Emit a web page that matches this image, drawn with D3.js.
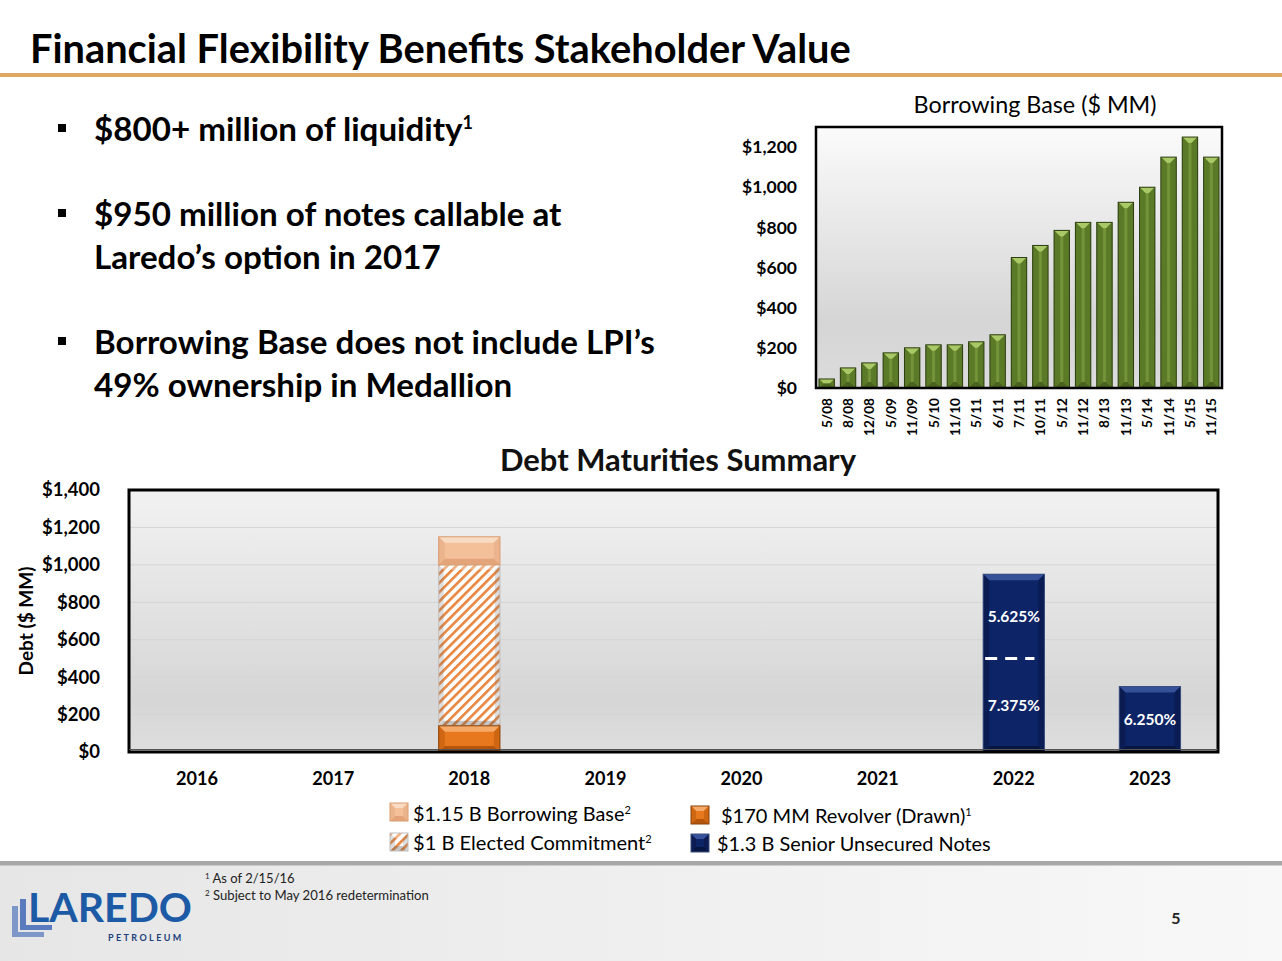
<!DOCTYPE html>
<html><head><meta charset="utf-8">
<script src="https://cdn.jsdelivr.net/npm/d3@7"></script>
<style>
html,body{margin:0;padding:0;background:#fff;}
svg{display:block;font-family:Lato,"Open Sans",sans-serif;}
</style></head><body>
<svg id="c" width="1282" height="961"></svg>
<script>
// ---------- DATA ----------
const bbDates = ["5/08","8/08","12/08","5/09","11/09","5/10","11/10","5/11","6/11","7/11","10/11","5/12","11/12","8/13","11/13","5/14","11/14","5/15","11/15"];
const bbValues = [45,100,125,175,200,215,215,230,265,650,710,785,825,825,925,1000,1150,1250,1150];
const bbTicks = [0,200,400,600,800,1000,1200];

const years = ["2016","2017","2018","2019","2020","2021","2022","2023"];
const revolverDrawn     = [0,0,140,0,0,0,0,0];
const electedCommitment = [0,0,1000,0,0,0,0,0];
const borrowingBase     = [0,0,1150,0,0,0,0,0];
const notesLower        = [0,0,0,0,0,0,500,350];
const notesUpper        = [0,0,0,0,0,0,450,0];
const notesLowerLabel   = ["","","","","","","7.375%","6.250%"];
const notesUpperLabel   = ["","","","","","","5.625%",""];
const debtTicks = [0,200,400,600,800,1000,1200,1400];

const bullets = [
  ["$800+ million of liquidity","1"],
  ["$950 million of notes callable at",""],
  ["Laredo\u2019s option in 2017",""],
  ["Borrowing Base does not include LPI\u2019s",""],
  ["49% ownership in Medallion",""]
];
const legendItems = [
  {key:"bb",   label:"$1.15 B Borrowing Base", sup:"2"},
  {key:"ec",   label:"$1 B Elected Commitment", sup:"2"},
  {key:"rev",  label:"$170 MM Revolver (Drawn)", sup:"1"},
  {key:"notes",label:"$1.3 B Senior Unsecured Notes", sup:""}
];
const footnotes = [["1","As of 2/15/16"],["2","Subject to May 2016 redetermination"]];

// ---------- HELPERS ----------
const svg = d3.select("#c");
const defs = svg.append("defs");
const fmt = v => "$" + d3.format(",")(v);

function fit(t, w){
  const cur = t.node().getComputedTextLength();
  const fs = parseFloat(t.attr("font-size"));
  t.attr("font-size", fs * w / cur);
  return fs * w / cur;
}
function fitAll(sel, w){
  let mx = 0;
  sel.each(function(){ mx = Math.max(mx, this.getComputedTextLength()); });
  const fs = parseFloat(sel.attr("font-size"));
  sel.attr("font-size", fs * w / mx);
}
const palettes = {
  green:{body:"url(#gGreen)", top:"#a9c866", bottom:"#4a6320", side:"#5b7a28", stroke:"#2e3d12"},
  rev:{body:"#e8781e", top:"#f6aa6a", bottom:"#b5560c", side:"#cf6612", stroke:"#8a4208"},
  bb:{body:"#f3c09a", top:"#f9dbc4", bottom:"#e3a479", side:"#ebb48c", stroke:"#d99c70"},
  notes:{body:"#0d2466", top:"#34519a", bottom:"#071640", side:"#0a1c52", stroke:"#3a4f80"},
  ec:{body:"url(#hatch)", top:"rgba(255,255,255,0.35)", bottom:"rgba(90,90,90,0.35)", side:"rgba(120,120,120,0.25)", stroke:"#c0c0c0"}
};
function bevel(g, x, y, w, h, p, b){
  b = Math.min(b, w/2, h/2);
  g.append("rect").attr("x",x).attr("y",y).attr("width",w).attr("height",h).attr("fill",p.body);
  const poly = (pts, f) => g.append("polygon").attr("points", pts.map(d=>d.join(",")).join(" ")).attr("fill", f);
  poly([[x,y],[x+w,y],[x+w-b,y+b],[x+b,y+b]], p.top);
  poly([[x,y+h],[x+w,y+h],[x+w-b,y+h-b],[x+b,y+h-b]], p.bottom);
  poly([[x,y],[x+b,y+b],[x+b,y+h-b],[x,y+h]], p.side);
  poly([[x+w,y],[x+w-b,y+b],[x+w-b,y+h-b],[x+w,y+h]], p.side);
  g.append("rect").attr("x",x).attr("y",y).attr("width",w).attr("height",h)
    .attr("fill","none").attr("stroke",p.stroke).attr("stroke-width",1);
}

// gradients & patterns
const gg = defs.append("linearGradient").attr("id","gGreen").attr("x1","0").attr("x2","1").attr("y1","0").attr("y2","0");
gg.append("stop").attr("offset","0").attr("stop-color","#4d6821");
gg.append("stop").attr("offset","0.5").attr("stop-color","#76963a");
gg.append("stop").attr("offset","1").attr("stop-color","#4d6821");
function vgrad(id, stops){
  const g = defs.append("linearGradient").attr("id",id).attr("x1","0").attr("x2","0").attr("y1","0").attr("y2","1");
  stops.forEach(s=>g.append("stop").attr("offset",s[0]).attr("stop-color",s[1]));
}
vgrad("plotBg",[[0,"#fbfbfb"],[0.75,"#d5d5d5"],[1,"#dcdcdc"]]);
vgrad("plotBg2",[[0,"#f2f2f2"],[0.8,"#d6d6d6"],[1,"#dedede"]]);
const fg = defs.append("linearGradient").attr("id","footBg").attr("x1","0").attr("x2","1").attr("y1","0").attr("y2","0");
fg.append("stop").attr("offset","0").attr("stop-color","#e6e6e6");
fg.append("stop").attr("offset","1").attr("stop-color","#f8f8f8");
const hp = defs.append("pattern").attr("id","hatch").attr("patternUnits","userSpaceOnUse")
  .attr("width",6.5).attr("height",6.5).attr("patternTransform","rotate(45)");
hp.append("rect").attr("width",6.5).attr("height",6.5).attr("fill","#ffffff");
hp.append("rect").attr("x",0).attr("width",2.6).attr("height",6.5).attr("fill","#e8853e");

// ---------- PAGE ----------
svg.append("rect").attr("width",1282).attr("height",961).attr("fill","#fff");
svg.append("rect").attr("x",0).attr("y",865).attr("width",1282).attr("height",96).attr("fill","url(#footBg)");
svg.append("rect").attr("x",0).attr("y",861).attr("width",1282).attr("height",4.5).attr("fill","#a8a8a8");

const title = svg.append("text").attr("x",30).attr("y",63).attr("font-size",35).attr("font-weight","bold")
  .attr("fill","#000").text("Financial Flexibility Benefits Stakeholder Value");
fit(title, 821);
svg.append("rect").attr("x",0).attr("y",73).attr("width",1282).attr("height",4).attr("fill","#dea762");

// bullets
const bulletY = [141,226,269,354,397];
const bulletHas = [true,true,false,true,false];
const bl = svg.append("g");
const btexts = bullets.map((b,i)=>{
  const t = bl.append("text").attr("x",94).attr("y",bulletY[i]).attr("font-size",30).attr("font-weight","bold").attr("fill","#000");
  t.append("tspan").text(b[0]);
  if (b[1]) t.append("tspan").attr("dy",-12).attr("font-size",18).text(b[1]);
  return t;
});
const bfs = fit(btexts[3], 561);
btexts.forEach(t=>t.attr("font-size",bfs));
btexts.forEach((t,i)=>{ if(bulletHas[i]) bl.append("rect").attr("x",58).attr("y",bulletY[i]-17).attr("width",8).attr("height",8).attr("fill","#000"); });

// ---------- TOP CHART: Borrowing Base ----------
const tL=816, tR=1222, tT=127, tB=388;
const x1 = d3.scaleBand().domain(bbDates).range([tL,tR]).paddingInner(0.28).paddingOuter(0.14);
const y1 = d3.scaleLinear().domain([0,1300]).range([tB,tT]);
const topG = svg.append("g");
topG.append("rect").attr("x",tL).attr("y",tT).attr("width",tR-tL).attr("height",tB-tT).attr("fill","url(#plotBg)");
const tt = topG.append("text").attr("x",1035).attr("y",113).attr("text-anchor","middle").attr("font-size",21)
  .attr("font-weight","normal").attr("fill","#000").text("Borrowing Base ($ MM)");
fit(tt, 243);
const bars1 = topG.append("g");
bbDates.forEach((d,i)=>{
  bevel(bars1, x1(d), y1(bbValues[i]), x1.bandwidth(), y1(0)-y1(bbValues[i]), palettes.green, 6);
});
const ay1 = topG.append("g").attr("transform",`translate(${tL-16},0)`)
  .call(d3.axisLeft(y1).tickValues(bbTicks).tickSize(0).tickFormat(fmt));
ay1.select(".domain").remove();
const ay1t = ay1.selectAll("text").attr("font-size",15.5).attr("font-weight","bold").attr("fill","#000")
  .attr("font-family","Lato,'Open Sans',sans-serif").attr("dx",0);
fitAll(ay1t, 55);
const ax1 = topG.append("g");
bbDates.forEach(d=>{
  ax1.append("text").attr("transform",`translate(${x1(d)+x1.bandwidth()/2+5},398) rotate(-90)`)
    .attr("text-anchor","end").attr("font-size",13).attr("font-weight","bold").attr("fill","#000").attr("class","xl").text(d);
});
fitAll(ax1.selectAll("text"), 38);
topG.append("rect").attr("x",tL).attr("y",tT).attr("width",tR-tL).attr("height",tB-tT)
  .attr("fill","none").attr("stroke","#000").attr("stroke-width",2.5);

// ---------- BOTTOM CHART: Debt Maturities ----------
const bL=129, bR=1218, bT=490, bB=752;
const x2 = d3.scaleBand().domain(years).range([bL,bR]).paddingInner(0.55).paddingOuter(0.275);
const y2 = d3.scaleLinear().domain([0,1400]).range([bB,bT]);
const bot = svg.append("g");
bot.append("rect").attr("x",bL).attr("y",bT).attr("width",bR-bL).attr("height",bB-bT).attr("fill","url(#plotBg2)");
bot.append("g").selectAll("line").data(debtTicks.filter(v=>v>0 && v<1400)).join("line")
  .attr("x1",bL).attr("x2",bR).attr("y1",d=>y2(d)).attr("y2",d=>y2(d)).attr("stroke","#d4d4d4").attr("stroke-width",1);
const bt = bot.append("text").attr("x",678).attr("y",471).attr("text-anchor","middle").attr("font-size",27)
  .attr("font-weight","bold").attr("fill","#111").text("Debt Maturities Summary");
fit(bt, 356);

const bars2 = bot.append("g");
years.forEach((yr,i)=>{
  const bx = x2(yr), bw = x2.bandwidth();
  if (revolverDrawn[i] > 0) {
    bevel(bars2, bx, y2(electedCommitment[i]), bw, y2(revolverDrawn[i]) - y2(electedCommitment[i]), palettes.ec, 5);
    bevel(bars2, bx, y2(borrowingBase[i]), bw, y2(electedCommitment[i]) - y2(borrowingBase[i]), palettes.bb, 6);
    bevel(bars2, bx, y2(revolverDrawn[i]), bw, y2(0) - y2(revolverDrawn[i]), palettes.rev, 6);
  }
  const tot = notesLower[i] + notesUpper[i];
  if (tot > 0) {
    bevel(bars2, bx, y2(tot), bw, y2(0) - y2(tot), palettes.notes, 6);
    if (notesUpper[i] > 0) {
      bars2.append("line").attr("x1",bx+2).attr("x2",bx+bw-10).attr("y1",y2(notesLower[i])).attr("y2",y2(notesLower[i]))
        .attr("stroke","#fff").attr("stroke-width",3).attr("stroke-dasharray","12,8");
      bars2.append("text").attr("x",bx+bw/2).attr("y",y2(notesLower[i]+notesUpper[i]/2)+6).attr("text-anchor","middle")
        .attr("font-size",15.5).attr("font-weight","bold").attr("fill","#fff").text(notesUpperLabel[i]);
    }
    bars2.append("text").attr("x",bx+bw/2).attr("y",y2(notesLower[i]/2)+6).attr("text-anchor","middle")
      .attr("font-size",15.5).attr("font-weight","bold").attr("fill","#fff").text(notesLowerLabel[i]);
  }
});

const ay2 = bot.append("g").attr("transform",`translate(${bL-26},0)`)
  .call(d3.axisLeft(y2).tickValues(debtTicks).tickSize(0).tickFormat(fmt));
ay2.select(".domain").remove();
const ay2t = ay2.selectAll("text").attr("font-size",16).attr("font-weight","bold").attr("fill","#000")
  .attr("font-family","Lato,'Open Sans',sans-serif").attr("dx",0);
fitAll(ay2t, 58);
const ax2 = bot.append("g").attr("transform",`translate(0,${bB})`)
  .call(d3.axisBottom(x2).tickSize(0));
ax2.select(".domain").remove();
const ax2t = ax2.selectAll("text").attr("font-size",16.5).attr("font-weight","bold").attr("fill","#000")
  .attr("font-family","Lato,'Open Sans',sans-serif").attr("dy",0).attr("y",33);
fitAll(ax2t, 42);
bot.append("text").attr("transform","translate(33,621) rotate(-90)").attr("text-anchor","middle")
  .attr("font-size",19).attr("font-weight","bold").attr("fill","#000").text("Debt ($ MM)");
bot.append("rect").attr("x",bL).attr("y",bT).attr("width",bR-bL).attr("height",bB-bT)
  .attr("fill","none").attr("stroke","#000").attr("stroke-width",3);
bot.append("line").attr("x1",bL).attr("x2",bR).attr("y1",bB-2.5).attr("y2",bB-2.5).attr("stroke","#555").attr("stroke-width",1);

// legend
const legPos = {bb:[390,803,413,821], ec:[390,833,413,850], rev:[691,806,721,823], notes:[691,834,717,851]};
const legW = {bb:219, ec:240, rev:252, notes:274};
const leg = svg.append("g");
legendItems.forEach(it=>{
  const p = legPos[it.key];
  bevel(leg, p[0], p[1], 18, 18, palettes[it.key], 5);
  const t = leg.append("text").attr("x",p[2]).attr("y",p[3]).attr("font-size",17).attr("font-weight","normal").attr("fill","#000");
  t.append("tspan").text(it.label);
  if (it.sup) t.append("tspan").attr("dy",-7).attr("font-size",11).text(it.sup);
  fit(t, legW[it.key]);
});

// footnotes
footnotes.forEach((f,i)=>{
  const t = svg.append("text").attr("x",205).attr("y",883+i*17).attr("font-size",13).attr("fill","#222");
  t.append("tspan").attr("font-size",8).attr("dy",-4).text(f[0]);
  t.append("tspan").attr("dy",4).text(" " + f[1]);
  if (i===1) fit(t, 224);
});
svg.append("text").attr("x",1176).attr("y",924).attr("text-anchor","middle").attr("font-size",16).attr("font-weight","bold").attr("fill","#222").text("5");

// logo
const logo = svg.append("g");
const Lshape = (ox, oy, c) => logo.append("path")
  .attr("d",`M${ox},${oy} h6 v26 h26 v5 h-32 z`).attr("fill",c);
Lshape(12,906,"#7d97c8");
Lshape(20,899,"#5a7bbd");
const lt = logo.append("text").attr("x",28).attr("y",922).attr("font-size",40).attr("font-weight","bold")
  .attr("fill","#1d5aa6").text("LAREDO");
fit(lt, 164);
logo.append("text").attr("x",108).attr("y",941).attr("font-size",9).attr("font-weight","bold")
  .attr("fill","#1d3f7a").attr("letter-spacing",2.4).text("PETROLEUM");
</script>
</body></html>
